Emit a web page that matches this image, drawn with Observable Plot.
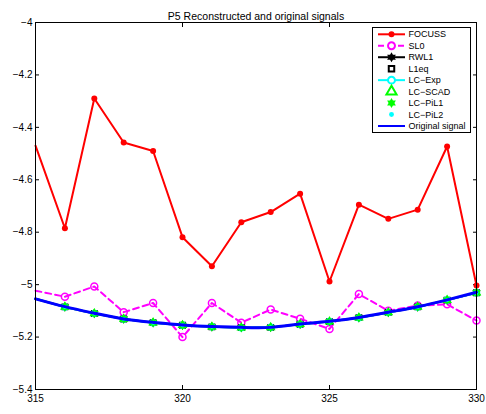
<!DOCTYPE html>
<html><head><meta charset="utf-8">
<script src="https://cdn.jsdelivr.net/npm/d3@7"></script>
<script src="https://cdn.jsdelivr.net/npm/@observablehq/plot@0.6"></script>
<style>body{margin:0;background:#fff;}</style>
</head><body><div id="chart"></div>
<script>
const title = "P5 Reconstructed and original signals";
const samples = [315,316,317,318,319,320,321,322,323,324,325,326,327,328,329,330];
const focuss = [-4.47,-4.785,-4.29,-4.458,-4.49,-4.819,-4.93,-4.762,-4.723,-4.653,-4.988,-4.695,-4.749,-4.714,-4.473,-5.003];
const sl0 = [-5.023,-5.046,-5.007,-5.105,-5.07,-5.20,-5.07,-5.145,-5.095,-5.13,-5.169,-5.036,-5.10,-5.08,-5.075,-5.137];
const original = [-5.054,-5.084,-5.109,-5.131,-5.144,-5.154,-5.16,-5.163,-5.163,-5.15,-5.14,-5.125,-5.105,-5.084,-5.058,-5.029];
const reconstructed = [-5.054,-5.085,-5.110,-5.131,-5.145,-5.155,-5.161,-5.164,-5.163,-5.151,-5.141,-5.126,-5.106,-5.085,-5.059,-5.031];
const xTicks = [315,320,325,330];
const yTicks = [-4,-4.2,-4.4,-4.6,-4.8,-5,-5.2,-5.4];
const legendLabels = ["FOCUSS","SL0","RWL1","L1eq","LC\u2212Exp","LC\u2212SCAD","LC\u2212PiL1","LC\u2212PiL2","Original signal"];

const hexagram = {
  draw(context, size) {
    const R = Math.sqrt(size / Math.PI) * 1.35, ri = R / Math.sqrt(3);
    for (let i = 0; i < 12; i++) {
      const a = Math.PI * i / 6 - Math.PI / 2, rr = i % 2 ? ri : R;
      const px = rr * Math.cos(a), py = rr * Math.sin(a);
      i ? context.lineTo(px, py) : context.moveTo(px, py);
    }
    context.closePath();
  }
};

const rows = ys => samples.map((x, i) => ({x, y: ys[i]}));
const markerRows = ys => rows(ys).filter(d => d.x > samples[0]);
const fmt = d => String(d).replace("-", "\u2212");

const plot = Plot.plot({
  width: 486, height: 414,
  marginLeft: 35, marginRight: 10, marginTop: 22, marginBottom: 25,
  style: {fontFamily: "'Liberation Sans', Arial, sans-serif", fontSize: "10px", background: "white", color: "black", overflow: "visible"},
  x: {domain: [315, 330]},
  y: {domain: [-5.4, -4]},
  marks: [
    Plot.axisX({ticks: xTicks, tickSize: 0, tickPadding: 5, tickFormat: fmt, label: null}),
    Plot.axisX({ticks: xTicks, tickSize: 4, dy: -4, tickFormat: () => "", label: null}),
    Plot.axisX({anchor: "top", ticks: xTicks, tickSize: 4, dy: 4, tickFormat: () => "", label: null}),
    Plot.axisY({ticks: yTicks, tickSize: 0, tickPadding: 3, tickFormat: fmt, label: null}),
    Plot.axisY({ticks: yTicks, tickSize: 4, dx: 4, tickFormat: () => "", label: null}),
    Plot.axisY({anchor: "right", ticks: yTicks, tickSize: 4, dx: -4, tickFormat: () => "", label: null}),
    Plot.line(rows(focuss), {x: "x", y: "y", stroke: "#ff0000", strokeWidth: 2}),
    Plot.dot(markerRows(focuss), {x: "x", y: "y", fill: "#ff0000", r: 3}),
    Plot.line(rows(sl0), {x: "x", y: "y", stroke: "#ff00ff", strokeWidth: 2, strokeDasharray: "6,4"}),
    Plot.dot(markerRows(sl0), {x: "x", y: "y", stroke: "#ff00ff", strokeWidth: 1.5, r: 3.5, fill: "none"}),
    Plot.line(rows(reconstructed), {x: "x", y: "y", stroke: "black", strokeWidth: 2}),
    Plot.dot(markerRows(reconstructed), {x: "x", y: "y", symbol: hexagram, fill: "black", r: 3.5}),
    Plot.dot(markerRows(reconstructed), {x: "x", y: "y", symbol: "square", stroke: "black", strokeWidth: 1.5, r: 3}),
    Plot.line(rows(reconstructed), {x: "x", y: "y", stroke: "#00ffff", strokeWidth: 2}),
    Plot.dot(markerRows(reconstructed), {x: "x", y: "y", stroke: "#00ffff", strokeWidth: 1.5, r: 3, fill: "none"}),
    Plot.dot(markerRows(reconstructed), {x: "x", y: "y", symbol: "triangle", stroke: "#00ff00", strokeWidth: 1.2, r: 2.8}),
    Plot.dot(markerRows(reconstructed), {x: "x", y: "y", symbol: hexagram, fill: "#00ff00", r: 3.6}),
    Plot.dot(markerRows(reconstructed), {x: "x", y: "y", fill: "#00ffff", r: 2}),
    Plot.line(rows(original), {x: "x", y: "y", stroke: "#0000ff", strokeWidth: 3, curve: "natural"}),
    Plot.frame({stroke: "black", strokeWidth: 1}),
    Plot.text([title], {frameAnchor: "top", dy: -10, fontSize: 10.5})
  ]
});

// Legend
const svg = d3.select(plot);
const lg = svg.append("g").attr("font-family", "'Liberation Sans', Arial, sans-serif").attr("font-size", 9).attr("text-anchor", "start");
lg.append("rect").attr("x", 372.5).attr("y", 27.5).attr("width", 98).attr("height", 105)
  .attr("fill", "white").attr("stroke", "black");
const x0 = 378, x1 = 405, xm = 391.5, tx = 408.5, y0 = 34.3, dyRow = 11.46;
const sym = (type, size) => d3.symbol().type(type).size(size)();
legendLabels.forEach((label, i) => {
  const y = y0 + i * dyRow;
  const g = lg.append("g");
  const line = (color, w, dash) => g.append("line").attr("x1", x0).attr("x2", x1).attr("y1", y).attr("y2", y)
    .attr("stroke", color).attr("stroke-width", w).attr("stroke-dasharray", dash || null);
  const mark = (type, size, fill, stroke, sw) => g.append("path").attr("d", sym(type, size))
    .attr("transform", `translate(${xm},${y})`).attr("fill", fill).attr("stroke", stroke || "none").attr("stroke-width", sw || 0);
  if (i === 0) { line("#ff0000", 2); mark(d3.symbolCircle, Math.PI * 9, "#ff0000"); }
  if (i === 1) { line("#ff00ff", 2, "6,4"); mark(d3.symbolCircle, Math.PI * 12, "white", "#ff00ff", 2); }
  if (i === 2) { line("black", 2); mark(hexagram, Math.PI * 14, "black"); }
  if (i === 3) { mark(d3.symbolSquare, 30, "white", "black", 2); }
  if (i === 4) { line("#00ffff", 2); mark(d3.symbolCircle, Math.PI * 12, "white", "#00ffff", 2); }
  if (i === 5) { mark(d3.symbolTriangle, 45, "white", "#00ff00", 2); }
  if (i === 6) { mark(hexagram, Math.PI * 14, "#00ff00"); }
  if (i === 7) { mark(d3.symbolCircle, Math.PI * 6, "#00ffff"); }
  if (i === 8) { line("#0000ff", 2); }
  g.append("text").attr("x", tx).attr("y", y).attr("dy", "0.35em").attr("fill", "black").attr("text-anchor", "start").text(label);
});

document.getElementById("chart").appendChild(plot);
</script>
</body></html>
